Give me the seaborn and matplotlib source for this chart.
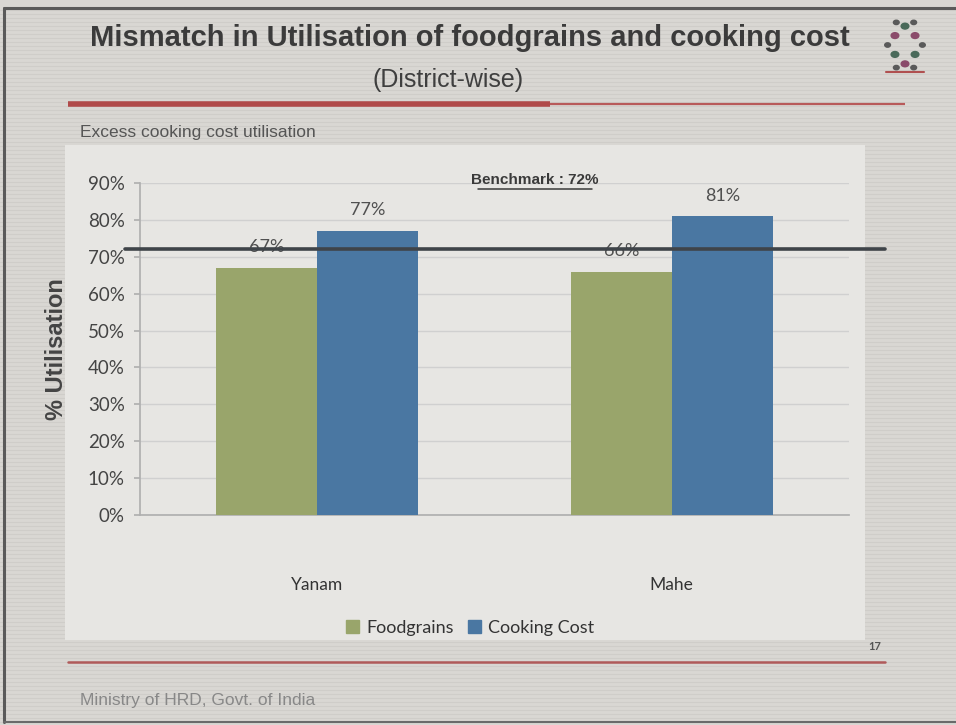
import numpy as np
import pandas as pd
import seaborn as sns
import matplotlib.pyplot as plt
from matplotlib.patches import Rectangle
from matplotlib.lines import Line2D
import matplotlib.transforms as mtransforms

# ---- data -------------------------------------------------------------
districts = ["Yanam", "Mahe"]
series = ["Foodgrains", "Cooking Cost"]
foodgrains = [0.67, 0.66]
cooking_cost = [0.77, 0.81]
benchmark = 0.72
y_ticks = [0.0, 0.1, 0.2, 0.3, 0.4, 0.5, 0.6, 0.7, 0.8, 0.9]

df = pd.DataFrame({
    "District": districts * 2,
    "Series": [series[0]] * 2 + [series[1]] * 2,
    "Value": foodgrains + cooking_cost,
})

# ---- style ------------------------------------------------------------
sns.set_theme(style="white")
plt.rcParams["font.family"] = ["Lato", "DejaVu Sans"]

W, H = 956, 725
fig = plt.figure(figsize=(W / 100, H / 100), dpi=100)
slide_bg = "#d9d7d3"
fig.patch.set_facecolor(slide_bg)


def fx(x):
    return x / W


def fy(y):
    return 1 - y / H


# faint horizontal striping of the slide background
for yy in range(10, H, 4):
    fig.add_artist(Line2D([0, 1], [fy(yy), fy(yy)], transform=fig.transFigure,
                          color="#c9c7c3", lw=0.8, alpha=0.6, zorder=0))

# slide frame
fig.add_artist(Line2D([fx(4), fx(956)], [fy(8), fy(8)], transform=fig.transFigure,
                      color="#5a5a5a", lw=2.2, zorder=1))
fig.add_artist(Line2D([fx(4), fx(4)], [fy(8), fy(722)], transform=fig.transFigure,
                      color="#5a5a5a", lw=2.2, zorder=1))
fig.add_artist(Line2D([fx(4), fx(956)], [fy(722), fy(722)], transform=fig.transFigure,
                      color="#6a6a6a", lw=1.5, zorder=1))

# chart panel
fig.add_artist(Rectangle((fx(65), fy(640)), fx(865) - fx(65), fy(145) - fy(640),
                         transform=fig.transFigure, facecolor="#e7e6e3",
                         edgecolor="none", zorder=1))

# title block
title_font = ["Liberation Sans Narrow", "Liberation Sans", "DejaVu Sans"]
fig.text(fx(470), fy(38), "Mismatch in Utilisation of foodgrains and cooking cost",
         ha="center", va="center", fontsize=21, fontweight="bold",
         color="#3b3b3b", family=title_font)
fig.text(fx(448), fy(80), "(District-wise)", ha="center", va="center",
         fontsize=18, color="#3f3f3f", family=title_font)
fig.add_artist(Line2D([fx(68), fx(550)], [fy(104), fy(104)], transform=fig.transFigure,
                      color="#b04a4a", lw=4, solid_capstyle="butt", zorder=2))
fig.add_artist(Line2D([fx(550), fx(905)], [fy(104), fy(104)], transform=fig.transFigure,
                      color="#b85a5a", lw=1.6, solid_capstyle="butt", zorder=2))
fig.text(fx(80), fy(132), "Excess cooking cost utilisation", ha="left", va="center",
         fontsize=12.5, color="#555555", family=["Liberation Sans", "DejaVu Sans"])

# ---- chart ------------------------------------------------------------
ax = fig.add_axes([fx(140), fy(515), fx(849) - fx(140), fy(183) - fy(515)])
ax.set_zorder(3)
ax.set_facecolor("none")
palette = {"Foodgrains": "#99a56b", "Cooking Cost": "#4a77a2"}
sns.barplot(data=df, x="District", y="Value", hue="Series", order=districts,
            hue_order=series, palette=palette, width=0.57, saturation=1,
            linewidth=0, ax=ax, zorder=3)
if ax.get_legend() is not None:
    ax.get_legend().remove()

ax.set_xlim(-0.5, 1.5)
ax.set_ylim(0, 0.9)
ax.set_yticks(y_ticks)
ax.set_yticklabels([f"{int(round(t * 100))}%" for t in y_ticks])
ax.tick_params(axis="y", labelsize=13.5, labelcolor="#444444", length=4,
               color="#b0b0b0", pad=7, left=True)
ax.tick_params(axis="x", labelsize=12.5, labelcolor="#333333", length=0, pad=45)
ax.set_xlabel("")
ax.set_ylabel("% Utilisation", fontsize=17, fontweight="bold", color="#444444",
              family=["Liberation Sans", "DejaVu Sans"], labelpad=14)
ax.grid(axis="y", color="#d0d0d0", lw=1, zorder=0)
ax.set_axisbelow(True)
for side in ["top", "right"]:
    ax.spines[side].set_visible(False)
ax.spines["left"].set_color("#b0b0b0")
ax.spines["bottom"].set_color("#b0b0b0")

for container in ax.containers:
    ax.bar_label(container, labels=[f"{v * 100:.0f}%" for v in container.datavalues],
                 padding=9, fontsize=13, color="#505050")

# benchmark line spanning beyond the plot area
trans = mtransforms.blended_transform_factory(fig.transFigure, ax.transData)
ax.add_line(Line2D([fx(125), fx(885)], [benchmark, benchmark], transform=trans,
                   color="#3f4449", lw=2.6, clip_on=False, zorder=5))
fig.text(fx(535), fy(180), f"Benchmark : {benchmark * 100:.0f}%", ha="center",
         va="center", fontsize=11, fontweight="bold", color="#3a3a3a",
         family=title_font, zorder=6)
fig.add_artist(Line2D([fx(478), fx(592)], [fy(189), fy(189)], transform=fig.transFigure,
                      color="#3a3a3a", lw=1.1, zorder=6))

# legend
handles = [Rectangle((0, 0), 1, 1, color=palette[s]) for s in series]
fig.legend(handles, series, loc="center", bbox_to_anchor=(fx(470), fy(628)),
           ncol=2, frameon=False, fontsize=13, handlelength=0.7, handleheight=0.7,
           handletextpad=0.4, columnspacing=0.8, labelcolor="#333333")

# footer
fig.add_artist(Line2D([fx(68), fx(885)], [fy(662), fy(662)], transform=fig.transFigure,
                      color="#b05a5a", lw=1.8, zorder=2))
fig.text(fx(875), fy(646), "17", ha="center", va="center", fontsize=8,
         fontweight="bold", color="#555555")
fig.text(fx(80), fy(700), "Ministry of HRD, Govt. of India", ha="left", va="center",
         fontsize=12.5, color="#888888", family=["Liberation Sans", "DejaVu Sans"])

# emblem in the top-right corner: ring of dots
cx, cy = fx(905), fy(45)
ang = np.linspace(0, 2 * np.pi, 7)[:-1] + np.pi / 2
for k, a in enumerate(ang):
    fig.add_artist(plt.Circle((cx + 0.016 * np.cos(a) * H / W, cy + 0.026 * np.sin(a)),
                              0.004, transform=fig.transFigure,
                              color="#8a4a6a" if k % 2 else "#4a6a5a", zorder=3))
    a2 = a + np.pi / 6
    fig.add_artist(plt.Circle((cx + 0.024 * np.cos(a2) * H / W, cy + 0.036 * np.sin(a2)),
                              0.003, transform=fig.transFigure, color="#5a5a5a", zorder=3))
fig.add_artist(Line2D([fx(886), fx(924)], [fy(72), fy(72)], transform=fig.transFigure,
                      color="#b05050", lw=1.5))

fig.savefig("out.png", dpi=100, facecolor=fig.get_facecolor())
